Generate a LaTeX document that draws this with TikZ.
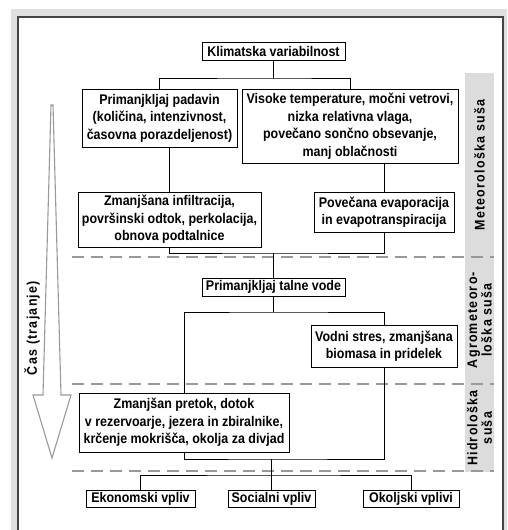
\documentclass[tikz,border=0pt]{standalone}
\usepackage{fontspec}
\setmainfont{Liberation Sans}[FakeStretch=0.89]
\newfontfamily\spacedfont{Liberation Sans}[FakeStretch=0.89, LetterSpace=9]
\definecolor{framegray}{HTML}{E0E0E0}
\definecolor{bandgray}{HTML}{DCDCDC}
\definecolor{bordergray}{HTML}{444444}
\definecolor{dashgray}{HTML}{999999}
\begin{document}
\begin{tikzpicture}[x=1pt,y=-1pt,
  box/.style={draw=black, line width=0.9pt, fill=white, align=center, inner xsep=2pt, inner ysep=1.5pt,
    font=\fontsize{14}{17.5}\selectfont\bfseries},
  conn/.style={draw=black, line width=0.8pt},
  stage/.style={draw=dashgray, line width=2.5pt, dash pattern=on 12pt off 7pt},
  bandlabel/.style={rotate=90, align=center, font=\fontsize{14}{14.5}\selectfont\bfseries\spacedfont}
]
\useasboundingbox (0,0) rectangle (507,530);
% frame
\fill[framegray] (11,9) rectangle (507,530);
\draw[bordergray, line width=1.8pt, fill=white] (18,17) rectangle (503,540);
% right band
\fill[bandgray] (465,73) rectangle (494,472);
% stage dividers
\draw[stage] (72,257) -- (494,257);
\draw[stage] (72,384) -- (494,384);
\draw[stage] (72,471) -- (494,471);
% band labels
\node[bandlabel] (lmet) at (479.5,165) {Meteorološka suša};
\node[bandlabel] (lagr) at (479.5,320) {Agrometeoro-\\loška suša};
\node[bandlabel] (lhid) at (479.5,428) {Hidrološka\\suša};
% time arrow
\draw[dashgray, line width=1.1pt, fill=white, line join=miter]
  (51,105) -- (53,105) -- (61,395) -- (71,395) -- (52,458) -- (33,395) -- (43,395) -- cycle;
\node[rotate=90, font=\fontsize{14}{14.5}\selectfont\bfseries\spacedfont] (cas) at (32,328) {Čas (trajanje)};
% boxes
\node[box, minimum width=143pt, minimum height=18pt] (kv) at (273.5,51.5) {Klimatska variabilnost};
\node[box, minimum width=155pt, minimum height=58pt] (pp) at (159.5,118) {Primanjkljaj padavin\\(količina, intenzivnost,\\časovna porazdeljenost)};
\node[box, minimum width=216pt, minimum height=74pt] (vt) at (350,126) {Visoke temperature, močni vetrovi,\\nizka relativna vlaga,\\povečano sončno obsevanje,\\manj oblačnosti};
\node[box, minimum width=183pt, minimum height=55pt] (zi) at (169.5,219.5) {Zmanjšana infiltracija,\\površinski odtok, perkolacija,\\obnova podtalnice};
\node[box, minimum width=140pt, minimum height=40pt] (pe) at (384,212) {Povečana evaporacija\\in evapotranspiracija};
\node[box, minimum width=143pt, minimum height=18pt] (ptv) at (273.5,287) {Primanjkljaj talne vode};
\node[box, minimum width=146pt, minimum height=42pt] (vs) at (384,346) {Vodni stres, zmanjšana\\biomasa in pridelek};
\node[box, minimum width=210pt, minimum height=59pt] (zp) at (184,422.5) {Zmanjšan pretok, dotok\\v rezervoarje, jezera in zbiralnike,\\krčenje mokrišča, okolja za divjad};
\node[box, minimum width=109pt, minimum height=17pt] (ev) at (140.5,499) {Ekonomski vpliv};
\node[box, minimum width=87pt, minimum height=17pt] (sv) at (271.5,499) {Socialni vpliv};
\node[box, minimum width=96pt, minimum height=17pt] (ov) at (411,499) {Okoljski vplivi};
% junction coordinates
\coordinate (j1) at (273.5,78);
\coordinate (j2) at (273.5,253);
\coordinate (j3) at (273.5,312);
\coordinate (j4) at (271.5,459);
\coordinate (j5) at (271.5,475);
% connectors
\draw[conn] (kv.south) -- (j1);
\draw[conn] (pp.north) |- (j1) -| (vt.north);
\draw[conn] (pp.south -| zi.north) -- (zi.north);
\draw[conn] (vt.south -| pe.north) -- (pe.north);
\draw[conn] (zi.south) |- (j2) -| (pe.south);
\draw[conn] (j2) -- (ptv.north);
\draw[conn] (ptv.south) -- (j3);
\draw[conn] (zp.north) |- (j3) -| (vs.north);
\draw[conn] (zp.south) |- (j4) -| (vs.south);
\draw[conn] (j4) -- (j5);
\draw[conn] (ev.north) |- (j5) -| (ov.north);
\draw[conn] (j5) -- (sv.north);
\end{tikzpicture}
\end{document}
